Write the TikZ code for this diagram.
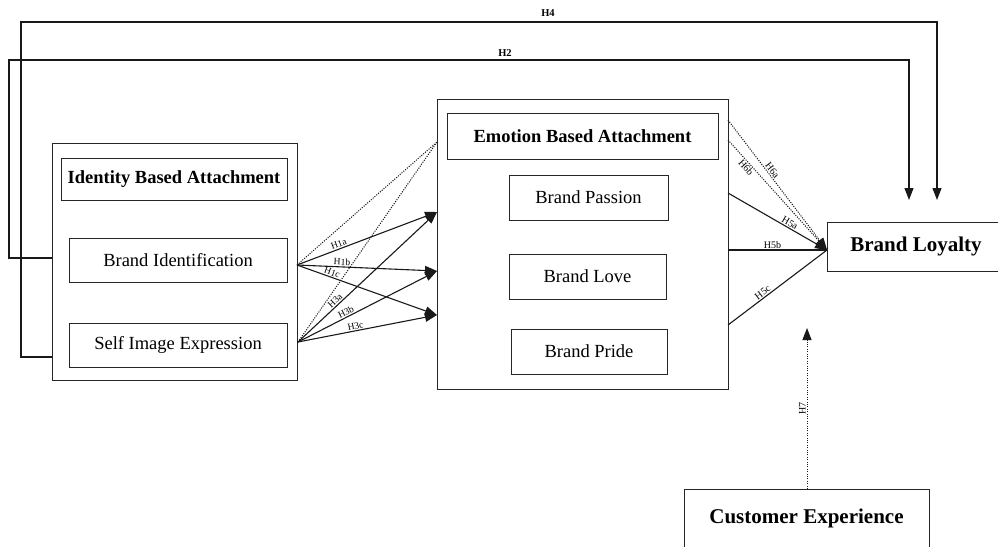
\documentclass[tikz,border=0pt]{standalone}
\usepackage{fontspec}
\setmainfont{Liberation Serif}
\usetikzlibrary{arrows.meta,calc}
\begin{document}
\begin{tikzpicture}[x=1pt,y=-1pt,
  box/.style={draw=black!85, line width=1pt, rectangle, inner sep=0pt, align=center},
  reg/.style={font=\fontsize{18.5}{20}\selectfont},
  ttl/.style={font=\bfseries\fontsize{18.5}{20}\selectfont},
  big/.style={font=\bfseries\fontsize{21}{23}\selectfont},
  conn/.style={draw=black!90, line width=1.1pt},
  tip/.style={-{Triangle[length=12pt,width=9pt]}},
  dots/.style={line width=1pt, dash pattern=on 1.1pt off 1.3pt},
  lab/.style={font=\fontsize{9.5}{10}\selectfont, sloped, above, inner sep=1pt},
  rlab/.style={font=\fontsize{10}{11}\selectfont, sloped, above, inner sep=1pt},
  toplab/.style={font=\bfseries\fontsize{10.5}{11}\selectfont, inner sep=0pt}
]
\useasboundingbox (0,0) rectangle (998,546);

% left group
\node[box, minimum width=245pt, minimum height=237pt] (outerL) at (174.5,261.5) {};
\node[box, ttl, minimum width=226pt, minimum height=42pt] (iba) at (174,179) {Identity Based Attachment};
\node[box, reg, minimum width=218pt, minimum height=44pt] (bi) at (178,260) {Brand Identification};
\node[box, reg, minimum width=218pt, minimum height=44pt] (sie) at (178,345) {Self Image Expression};

% emotion group
\node[box, minimum width=291pt, minimum height=290pt] (outerE) at (582.5,244) {};
\node[box, ttl, minimum width=271pt, minimum height=46pt] (eba) at (582.5,136) {Emotion Based Attachment};
\node[box, reg, minimum width=159pt, minimum height=45pt] (bpa) at (588.5,197.5) {Brand Passion};
\node[box, reg, minimum width=157pt, minimum height=45pt] (blo) at (587.5,276.5) {Brand Love};
\node[box, reg, minimum width=156pt, minimum height=45pt] (bpr) at (589,351.5) {Brand Pride};

% outcome boxes
\node[box, big, minimum width=178pt, minimum height=49pt] (loy) at (916,246.5) {Brand Loyalty};
\node[box, big, minimum width=245pt, minimum height=58pt] (ce) at (806.5,518) {Customer Experience};

% coordinates
\coordinate (h4s) at (52,357);
\coordinate (h2s) at (52,258);
\coordinate (h4e) at (937,200);
\coordinate (h2e) at (909,200);
\coordinate (s1) at (297,265);
\coordinate (s2) at (298,342);
\coordinate (t1) at (437,212);
\coordinate (t2) at (437,271);
\coordinate (t3) at (437,315);
\coordinate (td) at (437,142);
\coordinate (r6a) at (728,120);
\coordinate (r6b) at (728,140);
\coordinate (r5a) at (728,193);
\coordinate (r5b) at (728,250);
\coordinate (r5c) at (728,325);
\coordinate (bl) at (827,250);
\coordinate (h7s) at (807,489);
\coordinate (h7e) at (807,328);

% long feedback paths
\draw[conn, tip] (h4s) -| (21,22) -| (h4e);
\draw[conn, tip] (h2s) -| (9,60) -| (h2e);
\node[toplab] (h4l) at (548,13) {H4};
\node[toplab] (h2l) at (505,53) {H2};

% identity -> emotion
\draw[conn, dots] (s1) -- (td);
\draw[conn, dots] (s2) -- (td);
\draw[conn, tip] (s1) -- node[lab, pos=0.31] {H1a} (t1);
\draw[conn, tip] (s1) -- node[lab, pos=0.32] {H1b} (t2);
\draw[conn, tip] (s1) -- node[lab, pos=0.24] {H1c} (t3);
\draw[conn, tip] (s2) -- node[lab, pos=0.29] {H3a} (t1);
\draw[conn, tip] (s2) -- node[lab, pos=0.36] {H3b} (t2);
\draw[conn, tip] (s2) -- node[lab, pos=0.42] {H3c} (t3);

% emotion -> loyalty
\draw[conn, dots, tip] (r6a) -- node[rlab, pos=0.41] {H6a} (bl);
\draw[conn, dots, tip] (r6b) -- node[rlab, below, pos=0.22] {H6b} (bl);
\draw[conn, tip] (r5a) -- node[rlab, pos=0.6] {H5a} (bl);
\draw[conn] (r5b) -- node[rlab, pos=0.45] {H5b} (bl);
\draw[conn] (r5c) -- node[rlab, pos=0.38] {H5c} (bl);

% customer experience -> loyalty
\draw[conn, dots, tip] (h7s) -- node[rlab, pos=0.5] {H7} (h7e);
\end{tikzpicture}
\end{document}
